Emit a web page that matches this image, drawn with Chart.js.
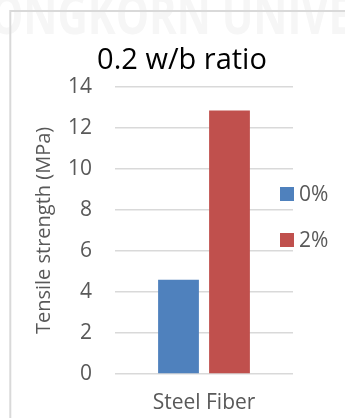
<!DOCTYPE html>
<html>
<head>
<meta charset="utf-8">
<script src="https://cdn.jsdelivr.net/npm/chart.js@4/dist/chart.umd.min.js"></script>
<style>
  html, body { margin: 0; padding: 0; background: #ffffff; }
  #wrap { width: 345px; height: 418px; }
</style>
</head>
<body>
<div id="wrap"><canvas id="c" width="345" height="418"></canvas></div>
<script>
// Data
const categories = ['Steel Fiber'];
const seriesNames = ['0%', '2%'];
const fiber0 = [4.6];
const fiber2 = [12.85];
const yTicks = [0, 2, 4, 6, 8, 10, 12, 14];

const FONT = "'Open Sans', 'Noto Sans', sans-serif";
const GREY = '#595959';

// Page frame and faint background watermark
const framePlugin = {
  id: 'frame',
  beforeDraw(chart) {
    const ctx = chart.ctx;
    ctx.save();
    ctx.fillStyle = '#ffffff';
    ctx.fillRect(0, 0, chart.width, chart.height);
    ctx.fillStyle = '#f6f6f6';
    ctx.font = 'bold 54px ' + FONT;
    ctx.textBaseline = 'alphabetic';
    ctx.fillText('ONGKORN UNIVE', -10, 34, 362);
    ctx.strokeStyle = '#d9d9d9';
    ctx.lineWidth = 2;
    ctx.beginPath();
    ctx.moveTo(10.3, chart.height);
    ctx.lineTo(10.3, 11);
    ctx.lineTo(chart.width, 11);
    ctx.stroke();
    ctx.restore();
  }
};

// Legend drawn beside the plot, one square swatch per dataset
const sideLegend = {
  id: 'sideLegend',
  afterDraw(chart, args, opts) {
    const ctx = chart.ctx;
    ctx.save();
    chart.data.datasets.forEach((ds, i) => {
      const cy = opts.top + i * opts.spacing;
      ctx.fillStyle = ds.backgroundColor;
      ctx.fillRect(opts.left, cy - opts.box / 2, opts.box, opts.box);
      ctx.fillStyle = opts.color;
      ctx.font = opts.size + 'px ' + FONT;
      ctx.textBaseline = 'middle';
      ctx.textAlign = 'left';
      ctx.fillText(ds.label, opts.left + opts.box + opts.gap, cy + 1);
    });
    ctx.restore();
  }
};

new Chart(document.getElementById('c'), {
  type: 'bar',
  data: {
    labels: categories,
    datasets: [
      { label: seriesNames[0], data: fiber0, backgroundColor: '#4F81BD' },
      { label: seriesNames[1], data: fiber2, backgroundColor: '#C0504D' }
    ]
  },
  plugins: [framePlugin, sideLegend],
  options: {
    responsive: false,
    animation: false,
    devicePixelRatio: 1,
    layout: { padding: { left: 19, right: 0, top: 30, bottom: 6 } },
    datasets: { bar: { categoryPercentage: 0.573, barPercentage: 0.8 } },
    plugins: {
      legend: { display: false },
      tooltip: { enabled: false },
      title: {
        display: true,
        text: '0.2 w/b ratio',
        color: '#000000',
        font: { family: FONT, size: 29, weight: 'normal' },
        padding: { top: 13, bottom: 9 }
      },
      sideLegend: { left: 280, top: 194, spacing: 46, box: 14, gap: 5, size: 21, color: GREY }
    },
    scales: {
      x: {
        grid: { display: false },
        border: { display: false },
        ticks: { color: GREY, font: { family: FONT, size: 21 }, padding: 8 },
        afterFit(s) { s.height = 418 - 374 - 6; }
      },
      y: {
        min: 0,
        max: 14,
        afterBuildTicks(s) { s.ticks = yTicks.map(v => ({ value: v })); },
        grid: { color: '#d9d9d9', lineWidth: 1.5, drawTicks: false },
        border: { display: false },
        ticks: { color: GREY, font: { family: FONT, size: 21 }, padding: 23 },
        title: {
          display: true,
          text: 'Tensile strength (MPa)',
          color: GREY,
          font: { family: FONT, size: 20 },
          padding: { top: 13, bottom: 0 }
        },
        afterFit(s) { s.width = 115 - 19; }
      },
      yRight: {
        position: 'right',
        display: true,
        grid: { display: false },
        border: { display: false },
        ticks: { display: false },
        afterFit(s) { s.width = 345 - 293; }
      }
    }
  }
});
</script>
</body>
</html>
